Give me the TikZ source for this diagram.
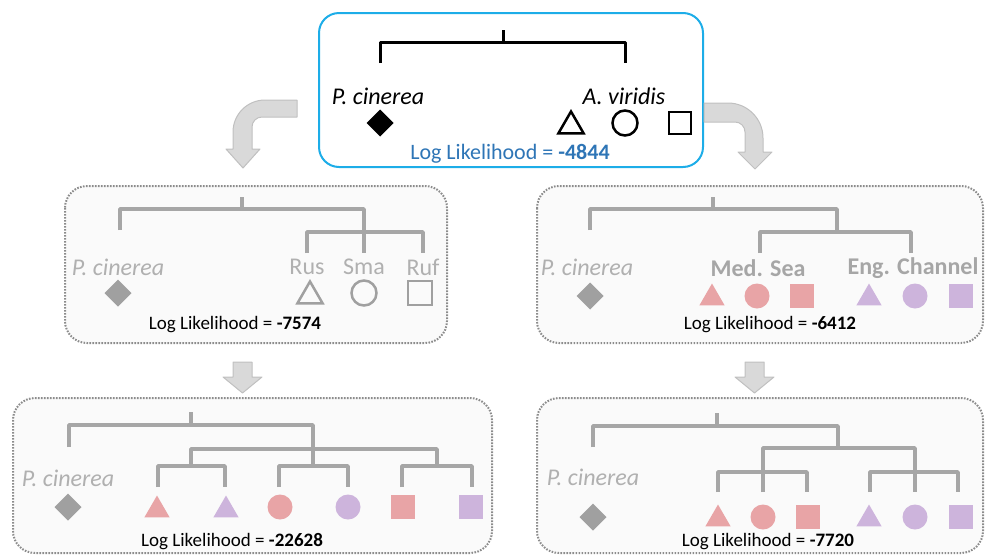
\documentclass[tikz,border=0pt]{standalone}
\usepackage{fontspec}
\setmainfont{Carlito}
\usetikzlibrary{shapes.geometric}
\definecolor{cyanb}{HTML}{1DADE8}
\definecolor{llblue}{HTML}{2E75B6}
\definecolor{tgray}{HTML}{A6A6A6}
\definecolor{lgray}{HTML}{B0B0B0}
\definecolor{sgray}{HTML}{A0A0A0}
\definecolor{pinkc}{HTML}{E8A4A6}
\definecolor{purpc}{HTML}{CDB4DC}
\definecolor{arrfill}{HTML}{D9D9D9}
\definecolor{arrdraw}{HTML}{C0C0C0}
\definecolor{boxfill}{HTML}{FAFAFA}
\definecolor{dotc}{HTML}{8C8C8C}
\tikzset{
  topbox/.style={draw=cyanb, line width=2pt, rounded corners=20pt},
  dotbox/.style={draw=dotc, dash pattern=on 1.6pt off 1.4pt, line width=2pt, fill=boxfill, rounded corners=22pt},
  blacktree/.style={draw=black, line width=3pt},
  graytree/.style={draw=tgray, line width=3.5pt},
  sym/.style={inner sep=0pt, outer sep=0pt},
  dia/.style={sym, diamond, minimum size=27pt},
  tri/.style={sym, regular polygon, regular polygon sides=3, minimum size=29pt},
  circ/.style={sym, circle, minimum size=25pt},
  sq/.style={sym, rectangle, minimum size=24pt},
  olk/.style={draw=black, line width=2.5pt},
  olg/.style={draw=sgray, line width=2.5pt},
  spec/.style={font=\fontsize{24}{28}\selectfont\itshape},
  lab/.style={font=\fontsize{24}{28}\selectfont, text=lgray},
  blab/.style={font=\fontsize{24}{28}\selectfont\bfseries, text=tgray},
  ll/.style={font=\fontsize{19}{23}\selectfont},
  fatarrow/.style={fill=arrfill, draw=arrdraw, line width=1pt, line join=round},
}
\begin{document}
\begin{tikzpicture}[x=1pt, y=-1pt]
\useasboundingbox (0,0) rectangle (985,555);

% ---------- top box ----------
\draw[topbox] (319,13) rectangle (703,167);
\draw[blacktree] (503,30) -- (503,42);
\draw[blacktree, line join=round] (380,63) -- (380,42) -- (625,42) -- (625,63);
\node[spec] (tpc) at (378,96) {P. cinerea};
\node[spec] (tav) at (624,96) {A. viridis};
\node[dia, fill=black] (td) at (380,123) {};
\node[tri, olk] (tt) at (571,126) {};
\node[circ, olk] (tc) at (625,123) {};
\node[sq, olk, minimum size=22pt] (ts) at (680,123) {};
\node[font=\fontsize{22}{26}\selectfont, text=llblue] (tll) at (510,154) {Log Likelihood = \textbf{-4844}};

% ---------- curved arrows ----------
\draw[fatarrow] (297,100) -- (265,100) arc[start angle=90, end angle=180, radius=32pt]
  -- (233,149) -- (226,149) -- (243,168) -- (260,149) -- (252,149) -- (252,127)
  arc[start angle=180, end angle=90, radius=10pt] -- (297,117) -- cycle;
\draw[fatarrow] (704,103) -- (728,103) arc[start angle=90, end angle=0, radius=35pt]
  -- (763,152) -- (772,152) -- (755,169) -- (738,152) -- (745,152) -- (745,132)
  arc[start angle=0, end angle=90, radius=10pt] -- (704,122) -- cycle;

% ---------- middle left ----------
\draw[dotbox] (65,186) rectangle (447,343);
\draw[graytree] (242,197) -- (242,209);
\draw[graytree, line join=round] (120,230) -- (120,209) -- (364,209) -- (364,253);
\draw[graytree, line join=round] (307,253) -- (307,232) -- (423,232) -- (423,253);
\node[spec, text=lgray] (mlpc) at (118,267) {P. cinerea};
\node[lab] (rus) at (307,267) {Rus};
\node[lab] (sma) at (364,267) {Sma};
\node[lab] (ruf) at (423,267) {Ruf};
\node[dia, fill=sgray] (mld) at (118,293) {};
\node[tri, olg] (mlt) at (310,296) {};
\node[circ, olg] (mlc) at (364,293) {};
\node[sq, olg] (mls) at (420,293) {};
\node[ll] (mlll) at (235,325) {Log Likelihood = \textbf{-7574}};

% ---------- middle right ----------
\draw[dotbox] (537,186) rectangle (983,343);
\draw[graytree] (713,197) -- (713,209);
\draw[graytree, line join=round] (590,230) -- (590,209) -- (837,209) -- (837,232);
\draw[graytree, line join=round] (760,253) -- (760,232) -- (911,232) -- (911,253);
\node[spec, text=lgray] (mrpc) at (587,267) {P. cinerea};
\node[blab] (med) at (758,268) {Med. Sea};
\node[blab] (eng) at (913,268) {Eng. Channel};
\node[dia, fill=sgray] (mrd) at (590,296) {};
\node[tri, fill=pinkc] (mrt1) at (712,298) {};
\node[circ, fill=pinkc] (mrc1) at (757,296) {};
\node[sq, fill=pinkc] (mrs1) at (802,296) {};
\node[tri, fill=purpc] (mrt2) at (869,298) {};
\node[circ, fill=purpc] (mrc2) at (915,296) {};
\node[sq, fill=purpc] (mrs2) at (961,296) {};
\node[ll] (mrll) at (770,325) {Log Likelihood = \textbf{-6412}};

% ---------- down arrows ----------
\draw[fatarrow] (233,362) -- (252,362) -- (252,377) -- (262,377) -- (242.5,393)
  -- (223,377) -- (233,377) -- cycle;
\draw[fatarrow] (745,362) -- (764,362) -- (764,377) -- (774,377) -- (754.5,393)
  -- (735,377) -- (745,377) -- cycle;

% ---------- bottom left ----------
\draw[dotbox] (13,398) rectangle (492,553);
\draw[graytree] (191,412) -- (191,425);
\draw[graytree, line join=round] (69,447) -- (69,425) -- (313,425) -- (313,467);
\draw[graytree, line join=round] (191,466) -- (191,449) -- (437,449) -- (437,466);
\draw[graytree, line join=round] (158,487) -- (158,466) -- (225,466) -- (225,487);
\draw[graytree, line join=round] (279,487) -- (279,466) -- (348,466) -- (348,487);
\draw[graytree, line join=round] (402,487) -- (402,466) -- (472,466) -- (472,487);
\node[spec, text=lgray] (blpc) at (68,478) {P. cinerea};
\node[dia, fill=sgray] (bld) at (68,507) {};
\node[tri, fill=pinkc] (blt1) at (157,510) {};
\node[tri, fill=purpc] (blt2) at (226,510) {};
\node[circ, fill=pinkc] (blc1) at (280,507) {};
\node[circ, fill=purpc] (blc2) at (348,507) {};
\node[sq, fill=pinkc] (bls1) at (403,507) {};
\node[sq, fill=purpc] (bls2) at (471,507) {};
\node[ll] (blll) at (232,542) {Log Likelihood = \textbf{-22628}};

% ---------- bottom right ----------
\draw[dotbox] (537,398) rectangle (983,553);
\draw[graytree] (717,413) -- (717,426);
\draw[graytree, line join=round] (593,447) -- (593,426) -- (838,426) -- (838,448);
\draw[graytree, line join=round] (763,492) -- (763,448) -- (915,448) -- (915,492);
\draw[graytree, line join=round] (718,492) -- (718,472) -- (807,472) -- (807,492);
\draw[graytree, line join=round] (870,492) -- (870,472) -- (958,472) -- (958,492);
\node[spec, text=lgray] (brpc) at (593,477) {P. cinerea};
\node[dia, fill=sgray] (brd) at (593,517) {};
\node[tri, fill=pinkc] (brt1) at (718,519) {};
\node[circ, fill=pinkc] (brc1) at (763,517) {};
\node[sq, fill=pinkc] (brs1) at (808,517) {};
\node[tri, fill=purpc] (brt2) at (869,519) {};
\node[circ, fill=purpc] (brc2) at (915,517) {};
\node[sq, fill=purpc] (brs2) at (961,517) {};
\node[ll] (brll) at (768,542) {Log Likelihood = \textbf{-7720}};
\end{tikzpicture}
\end{document}
